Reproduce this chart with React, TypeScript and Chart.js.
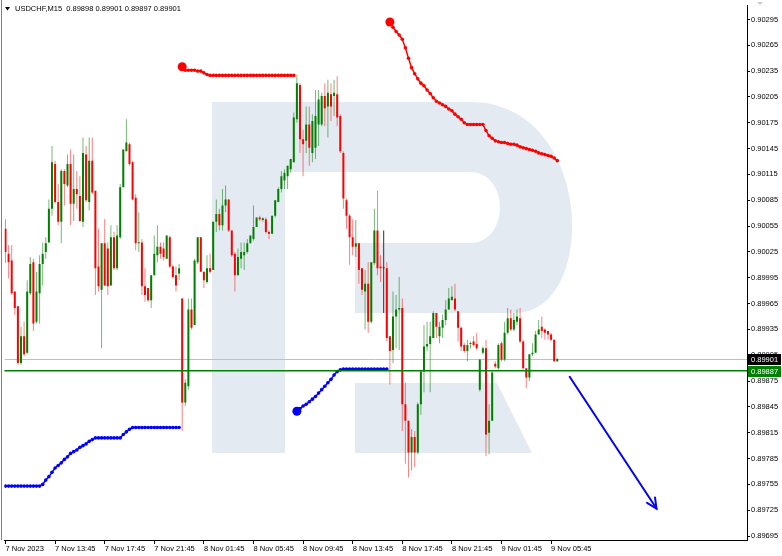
import React, { useEffect, useRef } from 'react';
import { Chart, registerables } from 'chart.js';

Chart.register(...registerables);

// ---- header ----
const symbolTitle = 'USDCHF,M15';
const headerValues = ['0.89898', '0.89901', '0.89897', '0.89901'];

// ---- 15-minute candles, bar 0 = 7 Nov 2023 09:45 ----
const opens = [
  0.90052, 0.90023, 0.90015, 0.89979, 0.89962, 0.89896, 0.89927, 0.89908, 0.89977, 0.90013,
  0.89944, 0.89977, 0.90011, 0.90025, 0.90036, 0.90075, 0.90127, 0.90083, 0.90060, 0.90119,
  0.90102, 0.90127, 0.90081, 0.90098, 0.90090, 0.90060, 0.90138, 0.90083, 0.90131, 0.90096,
  0.90008, 0.89981, 0.90035, 0.90029, 0.89986, 0.90042, 0.90006, 0.90042, 0.90100, 0.90142,
  0.90150, 0.90129, 0.90088, 0.90035, 0.90036, 0.89985, 0.89983, 0.89969, 0.89998, 0.90021,
  0.90031, 0.90029, 0.90017, 0.90042, 0.90008, 0.89998, 0.90000, 0.89971, 0.89850, 0.89869,
  0.89958, 0.89940, 0.90013, 0.90042, 0.90002, 0.89990, 0.90006, 0.90004, 0.90060, 0.90069,
  0.90056, 0.90079, 0.90086, 0.90050, 0.90023, 0.89998, 0.90017, 0.90021, 0.90025, 0.90035,
  0.90040, 0.90054, 0.90065, 0.90062, 0.90063, 0.90048, 0.90046, 0.90067, 0.90083, 0.90098,
  0.90108, 0.90113, 0.90121, 0.90129, 0.90179, 0.90219, 0.90156, 0.90154, 0.90173, 0.90140,
  0.90146, 0.90173, 0.90173, 0.90206, 0.90194, 0.90208, 0.90206, 0.90208, 0.90183, 0.90140,
  0.90085, 0.90067, 0.90042, 0.90031, 0.90035, 0.90006, 0.89979, 0.89988, 0.89944, 0.90012,
  0.90050, 0.90008, 0.90006, 0.90006, 0.89927, 0.89911, 0.89950, 0.89958, 0.89960, 0.89848,
  0.89829, 0.89792, 0.89810, 0.89792, 0.89848, 0.89886, 0.89915, 0.89918, 0.89925, 0.89954,
  0.89927, 0.89937, 0.89946, 0.89958, 0.89969, 0.89971, 0.89956, 0.89937, 0.89917, 0.89910,
  0.89918, 0.89921, 0.89918, 0.89865, 0.89908, 0.89913, 0.89815, 0.89829, 0.89895, 0.89890,
  0.89919, 0.89900, 0.89931, 0.89948, 0.89935, 0.89944, 0.89948, 0.89921, 0.89890, 0.89879,
  0.89906, 0.89908, 0.89929, 0.89938, 0.89935, 0.89933, 0.89929, 0.89923, 0.89898,
];
const highs = [
  0.90063, 0.90033, 0.90033, 0.89979, 0.89962, 0.89938, 0.89944, 0.89992, 0.90019, 0.90017,
  0.90002, 0.90021, 0.90036, 0.90042, 0.90086, 0.90148, 0.90131, 0.90104, 0.90121, 0.90121,
  0.90138, 0.90144, 0.90138, 0.90119, 0.90113, 0.90158, 0.90148, 0.90158, 0.90158, 0.90096,
  0.90052, 0.90035, 0.90063, 0.90036, 0.90056, 0.90048, 0.90056, 0.90104, 0.90144, 0.90179,
  0.90152, 0.90131, 0.90092, 0.90071, 0.90040, 0.90006, 0.89983, 0.89998, 0.90044, 0.90056,
  0.90036, 0.90036, 0.90044, 0.90044, 0.90010, 0.90008, 0.90011, 0.89971, 0.89877, 0.89971,
  0.89971, 0.90017, 0.90042, 0.90042, 0.90002, 0.90021, 0.90023, 0.90060, 0.90086, 0.90075,
  0.90098, 0.90102, 0.90086, 0.90050, 0.90025, 0.90029, 0.90036, 0.90036, 0.90040, 0.90044,
  0.90079, 0.90065, 0.90067, 0.90065, 0.90065, 0.90050, 0.90067, 0.90085, 0.90100, 0.90119,
  0.90121, 0.90125, 0.90133, 0.90187, 0.90231, 0.90221, 0.90167, 0.90194, 0.90194, 0.90185,
  0.90213, 0.90213, 0.90210, 0.90221, 0.90225, 0.90221, 0.90225, 0.90229, 0.90185, 0.90142,
  0.90087, 0.90069, 0.90063, 0.90062, 0.90035, 0.90006, 0.90004, 0.90013, 0.90013, 0.90075,
  0.90096, 0.90021, 0.90050, 0.90013, 0.89927, 0.89979, 0.89975, 0.89996, 0.89971, 0.89873,
  0.89829, 0.89819, 0.89817, 0.89850, 0.89888, 0.89940, 0.89944, 0.89944, 0.89956, 0.89954,
  0.89944, 0.89952, 0.89969, 0.89983, 0.89985, 0.89988, 0.89956, 0.89938, 0.89919, 0.89923,
  0.89921, 0.89927, 0.89931, 0.89900, 0.89915, 0.89923, 0.89848, 0.89886, 0.89898, 0.89919,
  0.89921, 0.89944, 0.89960, 0.89958, 0.89954, 0.89958, 0.89960, 0.89923, 0.89890, 0.89906,
  0.89919, 0.89933, 0.89946, 0.89950, 0.89936, 0.89933, 0.89931, 0.89923, 0.89901,
];
const lows = [
  0.90012, 0.89994, 0.89975, 0.89952, 0.89894, 0.89894, 0.89904, 0.89906, 0.89975, 0.89933,
  0.89942, 0.89942, 0.89986, 0.90017, 0.90036, 0.90067, 0.90081, 0.90056, 0.90035, 0.90079,
  0.90100, 0.90056, 0.90061, 0.90075, 0.90060, 0.90054, 0.90083, 0.90073, 0.90092, 0.89975,
  0.89979, 0.89913, 0.89985, 0.89975, 0.89986, 0.90004, 0.90004, 0.90040, 0.90100, 0.90142,
  0.90125, 0.90085, 0.90027, 0.90025, 0.89975, 0.89967, 0.89967, 0.89960, 0.89998, 0.90013,
  0.90017, 0.90015, 0.90017, 0.90006, 0.89994, 0.89979, 0.89992, 0.89817, 0.89846, 0.89865,
  0.89935, 0.89940, 0.90011, 0.90002, 0.89983, 0.89988, 0.90000, 0.90004, 0.90048, 0.90050,
  0.90050, 0.90071, 0.90048, 0.90019, 0.89979, 0.89998, 0.90006, 0.90004, 0.90023, 0.90035,
  0.90038, 0.90054, 0.90061, 0.90060, 0.90046, 0.90040, 0.90046, 0.90065, 0.90083, 0.90094,
  0.90098, 0.90098, 0.90117, 0.90129, 0.90175, 0.90140, 0.90113, 0.90140, 0.90125, 0.90129,
  0.90133, 0.90148, 0.90171, 0.90171, 0.90158, 0.90177, 0.90183, 0.90171, 0.90140, 0.90075,
  0.90052, 0.90010, 0.90021, 0.90019, 0.89988, 0.89975, 0.89935, 0.89931, 0.89942, 0.90010,
  0.89998, 0.89990, 0.89954, 0.89921, 0.89871, 0.89896, 0.89913, 0.89911, 0.89817, 0.89779,
  0.89763, 0.89771, 0.89775, 0.89790, 0.89836, 0.89862, 0.89910, 0.89862, 0.89925, 0.89925,
  0.89919, 0.89925, 0.89940, 0.89958, 0.89969, 0.89956, 0.89921, 0.89910, 0.89908, 0.89898,
  0.89913, 0.89915, 0.89911, 0.89863, 0.89906, 0.89788, 0.89790, 0.89829, 0.89890, 0.89888,
  0.89898, 0.89898, 0.89929, 0.89933, 0.89933, 0.89940, 0.89919, 0.89888, 0.89867, 0.89875,
  0.89904, 0.89908, 0.89929, 0.89925, 0.89923, 0.89923, 0.89921, 0.89897, 0.89897,
];
const closes = [
  0.90025, 0.90013, 0.89977, 0.89960, 0.89896, 0.89927, 0.89906, 0.89979, 0.90011, 0.89942,
  0.89979, 0.90011, 0.90023, 0.90035, 0.90075, 0.90129, 0.90083, 0.90060, 0.90119, 0.90104,
  0.90127, 0.90081, 0.90098, 0.90092, 0.90061, 0.90140, 0.90085, 0.90131, 0.90094, 0.90006,
  0.89985, 0.90035, 0.89986, 0.89985, 0.90042, 0.90006, 0.90044, 0.90100, 0.90144, 0.90152,
  0.90127, 0.90086, 0.90035, 0.90036, 0.89985, 0.89975, 0.89969, 0.89998, 0.90023, 0.90031,
  0.90023, 0.90019, 0.90044, 0.90008, 0.89996, 0.89986, 0.90006, 0.89850, 0.89873, 0.89958,
  0.89937, 0.90015, 0.90042, 0.90002, 0.89992, 0.90006, 0.90002, 0.90060, 0.90069, 0.90056,
  0.90079, 0.90086, 0.90050, 0.90021, 0.89998, 0.90019, 0.90025, 0.90025, 0.90035, 0.90044,
  0.90054, 0.90065, 0.90063, 0.90064, 0.90048, 0.90046, 0.90067, 0.90085, 0.90098, 0.90113,
  0.90117, 0.90125, 0.90133, 0.90181, 0.90221, 0.90156, 0.90150, 0.90173, 0.90146, 0.90177,
  0.90183, 0.90202, 0.90206, 0.90192, 0.90210, 0.90194, 0.90210, 0.90181, 0.90142, 0.90087,
  0.90067, 0.90042, 0.90031, 0.90035, 0.90004, 0.89981, 0.89988, 0.89944, 0.90013, 0.90050,
  0.90006, 0.90006, 0.90006, 0.89925, 0.89910, 0.89950, 0.89958, 0.89960, 0.89848, 0.89829,
  0.89792, 0.89810, 0.89792, 0.89848, 0.89886, 0.89915, 0.89918, 0.89927, 0.89954, 0.89938,
  0.89938, 0.89946, 0.89958, 0.89971, 0.89973, 0.89958, 0.89937, 0.89915, 0.89910, 0.89917,
  0.89919, 0.89917, 0.89913, 0.89900, 0.89913, 0.89813, 0.89829, 0.89885, 0.89892, 0.89917,
  0.89900, 0.89931, 0.89948, 0.89935, 0.89946, 0.89950, 0.89921, 0.89890, 0.89879, 0.89906,
  0.89908, 0.89929, 0.89935, 0.89933, 0.89931, 0.89929, 0.89923, 0.89898, 0.89901,
];

// ---- trailing-stop style indicator (bar index of first value + values) ----
const redTrail1Start = 57;
const redTrail1 = [
  0.90240, 0.90236, 0.90236, 0.90236, 0.90236, 0.90235, 0.90235, 0.90233, 0.90231, 0.90230,
  0.90230, 0.90230, 0.90230, 0.90230, 0.90230, 0.90230, 0.90230, 0.90230, 0.90230, 0.90230,
  0.90230, 0.90230, 0.90230, 0.90230, 0.90230, 0.90230, 0.90230, 0.90230, 0.90230, 0.90230,
  0.90230, 0.90230, 0.90230, 0.90230, 0.90230, 0.90230, 0.90230,
];
const redTrail2Start = 124;
const redTrail2 = [
  0.90292, 0.90286, 0.90281, 0.90277, 0.90272, 0.90262, 0.90250, 0.90239, 0.90232, 0.90226,
  0.90221, 0.90218, 0.90213, 0.90209, 0.90204, 0.90200, 0.90198, 0.90196, 0.90194, 0.90191,
  0.90189, 0.90185, 0.90182, 0.90179, 0.90175, 0.90173, 0.90173, 0.90173, 0.90173, 0.90173,
  0.90173, 0.90166, 0.90160, 0.90157, 0.90154, 0.90153, 0.90152, 0.90152, 0.90151, 0.90150,
  0.90150, 0.90149, 0.90147, 0.90146, 0.90145, 0.90144, 0.90143, 0.90142, 0.90140, 0.90139,
  0.90138, 0.90137, 0.90136, 0.90134, 0.90131,
];
const blueTrail1Start = -1;
const blueTrail1 = [
  0.89753, 0.89753, 0.89753, 0.89753, 0.89753, 0.89753, 0.89753, 0.89753, 0.89753, 0.89753,
  0.89753, 0.89753, 0.89753, 0.89755, 0.89760, 0.89764, 0.89769, 0.89774, 0.89777, 0.89780,
  0.89784, 0.89787, 0.89791, 0.89793, 0.89795, 0.89798, 0.89800, 0.89802, 0.89805, 0.89807,
  0.89809, 0.89809, 0.89809, 0.89809, 0.89809, 0.89809, 0.89809, 0.89809, 0.89809, 0.89813,
  0.89816, 0.89819, 0.89821, 0.89821, 0.89821, 0.89821, 0.89821, 0.89821, 0.89821, 0.89821,
  0.89821, 0.89821, 0.89821, 0.89821, 0.89821, 0.89821, 0.89821, 0.89821,
];
const blueTrail2Start = 94;
const blueTrail2 = [
  0.89840, 0.89843, 0.89846, 0.89848, 0.89851, 0.89854, 0.89857, 0.89861, 0.89865, 0.89869,
  0.89873, 0.89877, 0.89882, 0.89886, 0.89888, 0.89889, 0.89889, 0.89889, 0.89889, 0.89889,
  0.89889, 0.89889, 0.89889, 0.89889, 0.89889, 0.89889, 0.89889, 0.89889, 0.89889, 0.89889,
];

// ---- axes ----
const xTickBars = [0, 16, 32, 48, 64, 80, 96, 112, 128, 144, 160, 176];
const xTickLabels = [
  '7 Nov 2023', '7 Nov 13:45', '7 Nov 17:45', '7 Nov 21:45', '8 Nov 01:45', '8 Nov 05:45',
  '8 Nov 09:45', '8 Nov 13:45', '8 Nov 17:45', '8 Nov 21:45', '9 Nov 01:45', '9 Nov 05:45',
];
const yTicks = [
  0.90295, 0.90265, 0.90235, 0.90205, 0.90175, 0.90145, 0.90115, 0.90085, 0.90055, 0.90025,
  0.89995, 0.89965, 0.89935, 0.89905, 0.89875, 0.89845, 0.89815, 0.89785, 0.89755, 0.89725,
  0.89695,
];
const xRange = [-0.32, 239.2];
const yRange = [0.896904, 0.903112];

// ---- levels and drawing ----
const bidPrice = 0.89901;
const levelPrice = 0.89887;
const arrowFrom = { bar: 182, price: 0.8988 };
const arrowTo = { bar: 210, price: 0.89727 };

const BULL = '#008000';
const BEAR = '#ff0000';
const FONT = 'Liberation Sans, Arial, sans-serif';

function trailPoints(start: number, values: number[]) {
  return values.map((v, k) => ({ x: start + k, y: v }));
}

const decorPlugin = {
  id: 'decor',
  beforeDatasetsDraw(chart: any) {
    const { ctx, chartArea: a, scales } = chart;
    ctx.save();
    ctx.beginPath();
    ctx.rect(a.left, a.top, a.right - a.left, a.bottom - a.top);
    ctx.clip();
    // watermark "R"
    ctx.fillStyle = '#e4eaf2';
    ctx.fillRect(212, 102, 73, 351);
    ctx.beginPath();
    ctx.moveTo(285, 102);
    ctx.lineTo(470, 102);
    ctx.bezierCurveTo(595, 102, 600, 313, 515, 313);
    ctx.lineTo(355, 313);
    ctx.lineTo(355, 243);
    ctx.lineTo(470, 243);
    ctx.bezierCurveTo(510, 243, 510, 172, 470, 172);
    ctx.lineTo(285, 172);
    ctx.closePath();
    ctx.fill();
    ctx.beginPath();
    ctx.moveTo(355, 383);
    ctx.lineTo(497, 383);
    ctx.lineTo(532, 453);
    ctx.lineTo(355, 453);
    ctx.closePath();
    ctx.fill();
    // bid line
    const yb = Math.round(scales.y.getPixelForValue(bidPrice)) + 0.5;
    ctx.strokeStyle = '#c0c0c0';
    ctx.lineWidth = 1;
    ctx.beginPath();
    ctx.moveTo(a.left, yb);
    ctx.lineTo(a.right, yb);
    ctx.stroke();
    ctx.restore();
  },
  afterDatasetsDraw(chart: any) {
    const { ctx, chartArea: a, scales } = chart;
    ctx.save();
    const yl = scales.y.getPixelForValue(levelPrice);
    ctx.strokeStyle = '#008000';
    ctx.lineWidth = 1.6;
    ctx.beginPath();
    ctx.moveTo(a.left, yl);
    ctx.lineTo(a.right, yl);
    ctx.stroke();
    // arrow
    const x1 = scales.x.getPixelForValue(arrowFrom.bar);
    const y1 = scales.y.getPixelForValue(arrowFrom.price);
    const x2 = scales.x.getPixelForValue(arrowTo.bar);
    const y2 = scales.y.getPixelForValue(arrowTo.price);
    ctx.strokeStyle = '#0000ff';
    ctx.lineWidth = 2;
    ctx.lineCap = 'round';
    ctx.beginPath();
    ctx.moveTo(x1, y1);
    ctx.lineTo(x2, y2);
    ctx.stroke();
    const ang = Math.atan2(y2 - y1, x2 - x1);
    const hl = 11;
    ctx.beginPath();
    ctx.moveTo(x2 - hl * Math.cos(ang - 0.45), y2 - hl * Math.sin(ang - 0.45));
    ctx.lineTo(x2, y2);
    ctx.lineTo(x2 - hl * Math.cos(ang + 0.45), y2 - hl * Math.sin(ang + 0.45));
    ctx.stroke();
    ctx.restore();
  },
  afterDraw(chart: any) {
    const { ctx, chartArea: a, scales } = chart;
    ctx.save();
    // left frame
    ctx.strokeStyle = '#808080';
    ctx.lineWidth = 1;
    ctx.beginPath();
    ctx.moveTo(1.5, 0);
    ctx.lineTo(1.5, a.bottom);
    ctx.stroke();
    // price boxes on the axis
    ctx.font = `7.5px ${FONT}`;
    ctx.textBaseline = 'middle';
    const box = (price: number, bg: string) => {
      const y = Math.round(scales.y.getPixelForValue(price));
      ctx.fillStyle = bg;
      ctx.fillRect(a.right + 1, y - 5, 33, 11);
      ctx.fillStyle = '#ffffff';
      ctx.textAlign = 'left';
      ctx.fillText(price.toFixed(5), a.right + 4, y + 0.5);
    };
    box(bidPrice, '#000000');
    box(levelPrice, '#008000');
    // header
    ctx.fillStyle = '#000000';
    ctx.beginPath();
    ctx.moveTo(5, 7);
    ctx.lineTo(10, 7);
    ctx.lineTo(7.5, 10.5);
    ctx.closePath();
    ctx.fill();
    ctx.font = `7.5px ${FONT}`;
    ctx.textAlign = 'left';
    ctx.fillText(`${symbolTitle}  ${headerValues.join(' ')}`, 15, 9);
    // small marker top right
    ctx.fillStyle = '#c8c8c8';
    ctx.beginPath();
    ctx.moveTo(757, 2);
    ctx.lineTo(763, 2);
    ctx.lineTo(760, 5);
    ctx.closePath();
    ctx.fill();
    ctx.restore();
  },
};

export default function App() {
  const canvasRef = useRef<HTMLCanvasElement | null>(null);

  useEffect(() => {
    const canvas = canvasRef.current;
    if (!canvas) return;
    const bars = opens.map((_, i) => i);
    const colorOf = (i: number) =>
      closes[i] > opens[i] ? BULL : closes[i] < opens[i] ? BEAR : '#303030';
    const wickColorOf = (i: number) =>
      closes[i] > opens[i] ? 'rgba(0,128,0,0.55)' : closes[i] < opens[i] ? 'rgba(255,0,0,0.5)' : '#303030';

    const trailStyle = (color: string, bigFirst: boolean) => ({
      type: 'line' as const,
      borderColor: color,
      backgroundColor: color,
      borderWidth: 1.5,
      pointBackgroundColor: color,
      pointBorderWidth: 0,
      pointRadius: (c: any) => (bigFirst && c.dataIndex === 0 ? 4.5 : 1.8),
      tension: 0,
      order: 0,
    });

    const chart = new Chart(canvas, {
      type: 'bar',
      data: {
        datasets: [
          { ...trailStyle(BEAR, true), data: trailPoints(redTrail1Start, redTrail1) },
          { ...trailStyle(BEAR, true), data: trailPoints(redTrail2Start, redTrail2) },
          { ...trailStyle('#0000ff', false), data: trailPoints(blueTrail1Start, blueTrail1) },
          { ...trailStyle('#0000ff', true), data: trailPoints(blueTrail2Start, blueTrail2) },
          {
            type: 'bar',
            data: bars.map((i) => ({ x: i, y: [opens[i], closes[i]] })),
            backgroundColor: bars.map(colorOf),
            barThickness: 2,
            minBarLength: 1,
            inflateAmount: 0,
            grouped: false,
            order: 1,
          } as any,
          {
            type: 'bar',
            data: bars.map((i) => ({ x: i, y: [lows[i], highs[i]] })),
            backgroundColor: bars.map(wickColorOf),
            barThickness: 1,
            minBarLength: 1,
            inflateAmount: 0,
            grouped: false,
            order: 2,
          } as any,
        ] as any,
      },
      options: {
        animation: false,
        responsive: false,
        maintainAspectRatio: false,
        events: [],
        layout: { padding: { left: 2, top: 2, right: 0, bottom: 0 } },
        plugins: {
          legend: { display: false },
          tooltip: { enabled: false },
          title: { display: false },
        },
        scales: {
          x: {
            type: 'linear',
            min: xRange[0],
            max: xRange[1],
            offset: false,
            afterBuildTicks: (s: any) => {
              s.ticks = xTickBars.map((v) => ({ value: v }));
            },
            afterFit: (s: any) => {
              s.height = 16;
            },
            grid: { drawOnChartArea: false, drawTicks: true, tickLength: 4, color: '#000', offset: false },
            border: { display: true, color: '#000', width: 1 },
            ticks: {
              autoSkip: false,
              maxRotation: 0,
              minRotation: 0,
              align: 'start',
              padding: 0,
              color: '#000',
              font: { family: FONT, size: 7.5 },
              callback: (_v: any, i: number) => xTickLabels[i],
            },
          },
          y: {
            type: 'linear',
            position: 'right',
            min: yRange[0],
            max: yRange[1],
            afterBuildTicks: (s: any) => {
              s.ticks = yTicks.map((v) => ({ value: v }));
            },
            afterFit: (s: any) => {
              s.width = 35;
            },
            grid: { drawOnChartArea: false, drawTicks: true, tickLength: 3, color: '#000' },
            border: { display: true, color: '#000', width: 1 },
            ticks: {
              padding: 1,
              color: '#000',
              font: { family: FONT, size: 7.5 },
              callback: (v: any) => Number(v).toFixed(5),
            },
          },
        },
      } as any,
      plugins: [decorPlugin],
    });
    return () => chart.destroy();
  }, []);

  return (
    <div style={{ position: 'fixed', left: 0, top: 0, width: 782, height: 556, background: '#ffffff' }}>
      <canvas ref={canvasRef} width={782} height={556} style={{ display: 'block' }} />
    </div>
  );
}
